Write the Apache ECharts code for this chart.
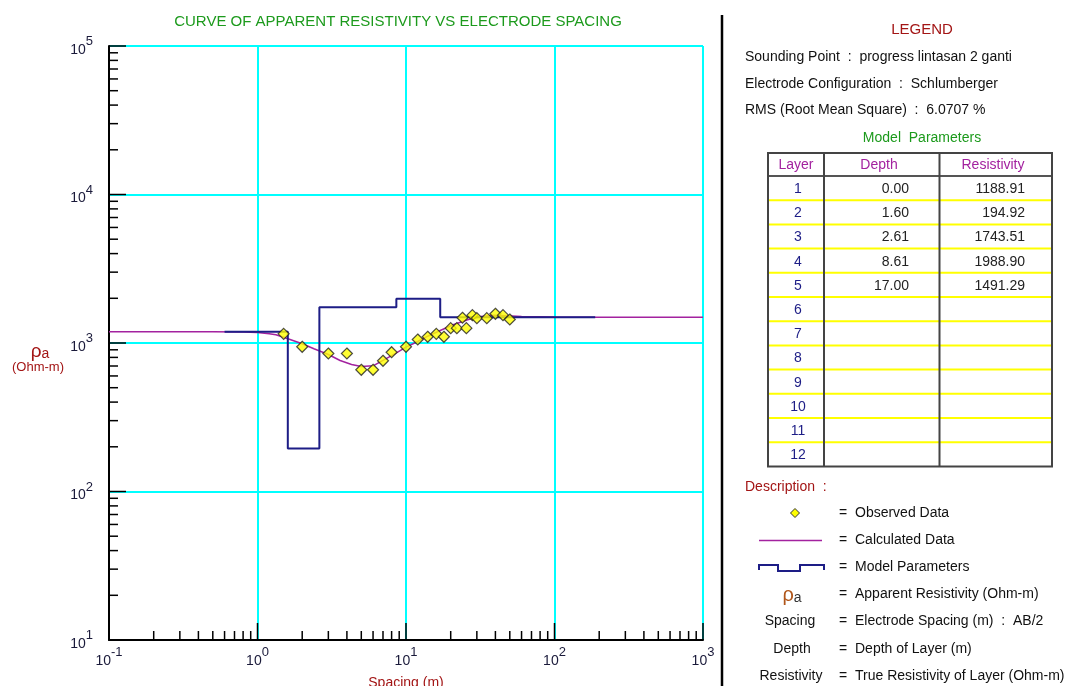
<!DOCTYPE html>
<html><head><meta charset="utf-8">
<script src="https://cdn.jsdelivr.net/npm/echarts/dist/echarts.min.js"></script>
<style>html,body{margin:0;padding:0;background:#fff}#c{width:1078px;height:686px}</style>
</head><body><div id="c"></div>
<script>
// ---- data ----
const obsSpacing = [1.5, 2, 3, 4, 5, 6, 7, 8, 10, 12, 14, 16, 18, 20, 22, 24, 25.5, 28, 30, 35, 40, 45, 50];
const obsRho     = [1153, 943, 850, 850, 660, 660, 759, 867, 943, 1056, 1101, 1153, 1101, 1258, 1258, 1479, 1258, 1539, 1469, 1469, 1573, 1539, 1440];
const calcSpacing = [0.1, 0.5, 0.8, 1.0, 1.2, 1.33, 1.5, 2, 2.4, 3, 3.6, 4.3, 5, 6, 7, 8.4, 10, 12, 14, 17, 21, 26, 32, 39, 48, 60, 100, 200, 500, 1000];
const calcRho     = [1189, 1189, 1186, 1176, 1156, 1135, 1092, 988, 914, 837, 762, 717, 695, 702, 763, 846, 937, 1023, 1111, 1213, 1332, 1433, 1508, 1535, 1524, 1508, 1495, 1492, 1491, 1491];
const layerNo      = ['1','2','3','4','5','6','7','8','9','10','11','12'];
const layerDepth   = [0.00, 1.60, 2.61, 8.61, 17.00];
const layerRes     = [1188.91, 194.92, 1743.51, 1988.90, 1491.29];
const modelStart = 0.6, modelEnd = 188;
const xTickDecades = [0.1, 1, 10, 100, 1000];
const yTickDecades = [10, 100, 1000, 10000, 100000];
const minorMult = [2, 3, 4, 5, 6, 7, 8, 9];
const infoLines = ['Sounding Point  :  progress lintasan 2 ganti', 'Electrode Configuration  :  Schlumberger', 'RMS (Root Mean Square)  :  6.0707 %'];
const descTexts = ['Observed Data', 'Calculated Data', 'Model Parameters', 'Apparent Resistivity (Ohm-m)', 'Electrode Spacing (m)  :  AB/2', 'Depth of Layer (m)', 'True Resistivity of Layer (Ohm-m)'];

// ---- derived ----
const obsData = obsSpacing.map((x, i) => [x, obsRho[i]]);
const calcData = calcSpacing.map((x, i) => [x, calcRho[i]]);
const modelData = [];
layerRes.forEach((r, i) => {
  const x0 = i === 0 ? modelStart : layerDepth[i];
  const x1 = i < layerRes.length - 1 ? layerDepth[i + 1] : modelEnd;
  modelData.push([x0, r], [x1, r]);
});
function tickList(decades) {
  const out = [];
  decades.forEach((d, i) => {
    out.push([d, 1]);
    if (i < decades.length - 1) minorMult.forEach(m => out.push([d * m, 0]));
  });
  return out;
}
const xTicks = tickList(xTickDecades).map(t => [t[0], 10, t[1]]);
const yTicks = tickList(yTickDecades).map(t => [0.1, t[0], t[1]]);

const FONT = 'Liberation Sans, Arial, sans-serif';
const RED = '#a31515', PURPLE = '#a3229f', NAVY = '#1d1d86', GREEN = '#1c9a1c';
function expLabel(v) {
  const e = Math.round(Math.log10(v));
  return '{b|10}{s|' + e + '}';
}
const labelRich = {
  b: { fontSize: 14, fontFamily: FONT, color: '#1a1a3a', lineHeight: 22, verticalAlign: 'bottom' },
  s: { fontSize: 13, fontFamily: FONT, color: '#1a1a3a', lineHeight: 22, verticalAlign: 'top' }
};

// ---- right panel graphics ----
const g = [];
g.push({ type: 'text', x: 398, y: 22, style: { text: 'CURVE OF APPARENT RESISTIVITY VS ELECTRODE SPACING', fill: GREEN, font: '15px ' + FONT, align: 'center', verticalAlign: 'middle' } });
g.push({ type: 'line', shape: { x1: 722, y1: 15, x2: 722, y2: 686 }, style: { stroke: '#000', lineWidth: 2.5 } });
g.push({ type: 'text', x: 922, y: 30, style: { text: 'LEGEND', fill: RED, font: '15px ' + FONT, align: 'center', verticalAlign: 'middle' } });
infoLines.forEach((t, i) => g.push({ type: 'text', x: 745, y: 57.5 + 26.5 * i, style: { text: t, fill: '#111', font: '14px ' + FONT, verticalAlign: 'middle' } }));
g.push({ type: 'text', x: 922, y: 138, style: { text: 'Model  Parameters', fill: GREEN, font: '14px ' + FONT, align: 'center', verticalAlign: 'middle' } });
// table
const tL = 768, tR = 1052, tT = 153, hB = 176, rowH = 24.2, c1 = 824, c2 = 939.5;
const tB = hB + rowH * 12;
for (let k = 1; k < 12; k++) {
  g.push({ type: 'line', shape: { x1: tL, y1: hB + rowH * k, x2: tR, y2: hB + rowH * k }, style: { stroke: '#ffff00', lineWidth: 2 } });
}
g.push({ type: 'line', shape: { x1: tL, y1: hB, x2: tR, y2: hB }, style: { stroke: '#555', lineWidth: 2 } });
[c1, c2].forEach(x => g.push({ type: 'line', shape: { x1: x, y1: tT, x2: x, y2: tB }, style: { stroke: '#444', lineWidth: 2 } }));
g.push({ type: 'rect', shape: { x: tL, y: tT, width: tR - tL, height: tB - tT }, style: { fill: null, stroke: '#444', lineWidth: 2 } });
[['Layer', 796], ['Depth', 879], ['Resistivity', 993]].forEach(h => g.push({ type: 'text', x: h[1], y: 165, style: { text: h[0], fill: PURPLE, font: '14px ' + FONT, align: 'center', verticalAlign: 'middle' } }));
layerNo.forEach((n, i) => {
  const cy = hB + rowH * i + rowH / 2 + 1;
  g.push({ type: 'text', x: 798, y: cy, style: { text: n, fill: NAVY, font: '14px ' + FONT, align: 'center', verticalAlign: 'middle' } });
  if (i < layerDepth.length) {
    g.push({ type: 'text', x: 909, y: cy, style: { text: layerDepth[i].toFixed(2), fill: '#222', font: '14px ' + FONT, align: 'right', verticalAlign: 'middle' } });
    g.push({ type: 'text', x: 1025, y: cy, style: { text: layerRes[i].toFixed(2), fill: '#222', font: '14px ' + FONT, align: 'right', verticalAlign: 'middle' } });
  }
});
// description
g.push({ type: 'text', x: 745, y: 487, style: { text: 'Description  :', fill: RED, font: '14px ' + FONT, verticalAlign: 'middle' } });
const dY = [513, 540.5, 567.5, 594.5, 621.5, 649, 676.5];
descTexts.forEach((t, i) => {
  g.push({ type: 'text', x: 843, y: dY[i], style: { text: '=', fill: '#111', font: '14px ' + FONT, align: 'center', verticalAlign: 'middle' } });
  g.push({ type: 'text', x: 855, y: dY[i], style: { text: t, fill: '#111', font: '14px ' + FONT, verticalAlign: 'middle' } });
});
g.push({ type: 'polygon', shape: { points: [[795, 508.5], [799.5, 513], [795, 517.5], [790.5, 513]] }, style: { fill: '#ffff00', stroke: '#333', lineWidth: 1 } });
g.push({ type: 'line', shape: { x1: 759, y1: 540.5, x2: 822, y2: 540.5 }, style: { stroke: PURPLE, lineWidth: 1.5 } });
g.push({ type: 'polyline', shape: { points: [[759, 570], [759, 565], [778, 565], [778, 571], [800, 571], [800, 565], [824, 565], [824, 570]] }, style: { stroke: NAVY, lineWidth: 2, fill: null } });
g.push({ type: 'text', x: 792, y: 594.5, style: { text: '{r|ρ}{a|a}', align: 'center', verticalAlign: 'middle', rich: { r: { fontSize: 20, fontFamily: FONT, fill: '#b0561a', verticalAlign: 'bottom', lineHeight: 22 }, a: { fontSize: 14, fontFamily: FONT, fill: '#333', verticalAlign: 'bottom', lineHeight: 20 } } } });
[['Spacing', 790, 4], ['Depth', 792, 5], ['Resistivity', 791, 6]].forEach(s => g.push({ type: 'text', x: s[1], y: dY[s[2]], style: { text: s[0], fill: '#111', font: '14px ' + FONT, align: 'center', verticalAlign: 'middle' } }));
// axis titles
g.push({ type: 'text', x: 40, y: 350, style: { text: '{r|ρ}{a|a}', align: 'center', verticalAlign: 'middle', rich: { r: { fontSize: 19, fontFamily: FONT, fill: RED, verticalAlign: 'bottom', lineHeight: 22 }, a: { fontSize: 14, fontFamily: FONT, fill: RED, verticalAlign: 'bottom', lineHeight: 20 } } } });
g.push({ type: 'text', x: 38, y: 367, style: { text: '(Ohm-m)', fill: RED, font: '13px ' + FONT, align: 'center', verticalAlign: 'middle' } });

const chart = echarts.init(document.getElementById('c'), null, { renderer: 'canvas' });
chart.setOption({
  animation: false,
  backgroundColor: '#fff',
  grid: { left: 109, top: 46, width: 594, height: 594, containLabel: false, outerBoundsMode: 'none' },
  xAxis: {
    type: 'log', logBase: 10, min: 0.1, max: 1000, splitNumber: 4,
    name: 'Spacing (m)', nameLocation: 'middle', nameGap: 36,
    nameTextStyle: { color: RED, fontSize: 14, fontFamily: FONT },
    axisLine: { show: true, lineStyle: { color: '#000', width: 2 } },
    axisTick: { show: false }, minorTick: { show: false },
    axisLabel: { margin: 6, formatter: expLabel, rich: labelRich },
    splitLine: { show: true, showMinLine: false, lineStyle: { color: '#00ffff', width: 2 } }
  },
  yAxis: {
    type: 'log', logBase: 10, min: 10, max: 100000, splitNumber: 4,
    axisLine: { show: true, lineStyle: { color: '#000', width: 2 } },
    axisTick: { show: false }, minorTick: { show: false },
    axisLabel: { margin: 16, formatter: expLabel, rich: labelRich },
    splitLine: { show: true, showMinLine: false, lineStyle: { color: '#00ffff', width: 2 } }
  },
  graphic: g,
  series: [
    { type: 'custom', silent: true, clip: false, z: 20, data: xTicks,
      renderItem: (p, api) => { const c = api.coord([api.value(0), 10]); const len = api.value(2) ? 17 : 9;
        return { type: 'line', shape: { x1: c[0], y1: c[1], x2: c[0], y2: c[1] - len }, style: { stroke: '#000', lineWidth: 1.5 } }; } },
    { type: 'custom', silent: true, clip: false, z: 20, data: yTicks,
      renderItem: (p, api) => { const c = api.coord([0.1, api.value(1)]); const len = api.value(2) ? 17 : 9;
        return { type: 'line', shape: { x1: c[0], y1: c[1], x2: c[0] + len, y2: c[1] }, style: { stroke: '#000', lineWidth: 1.5 } }; } },
    { name: 'Calculated Data', type: 'line', data: calcData, smooth: false, showSymbol: false, z: 3,
      lineStyle: { color: PURPLE, width: 1.5 } },
    { name: 'Model Parameters', type: 'line', data: modelData, showSymbol: false, z: 4,
      lineStyle: { color: NAVY, width: 2 } },
    { name: 'Observed Data', type: 'scatter', data: obsData, symbol: 'diamond', symbolSize: [11, 11], z: 5,
      itemStyle: { color: '#ffff00', borderColor: '#222', borderWidth: 1.2 } }
  ]
});
</script></body></html>
